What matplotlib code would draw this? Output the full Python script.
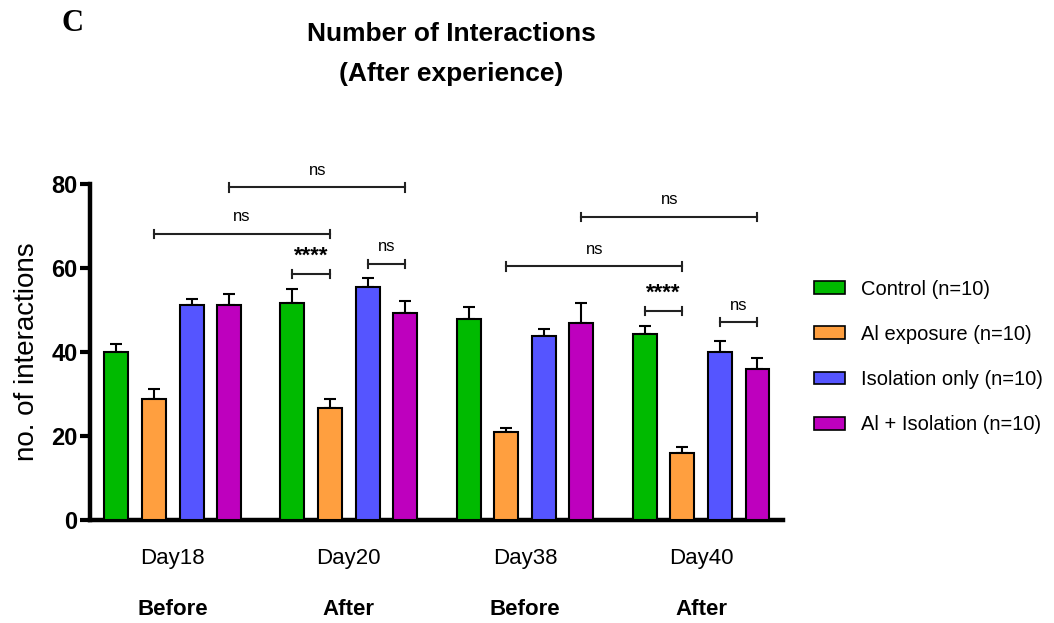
import matplotlib
matplotlib.use("Agg")
import matplotlib.pyplot as plt
from matplotlib.patches import Patch
from matplotlib.transforms import blended_transform_factory
import numpy as np

plt.rcParams['font.family'] = ['Liberation Sans', 'DejaVu Sans']

days = ["Day18", "Day20", "Day38", "Day40"]
phases = ["Before", "After", "Before", "After"]
groups = ["Control (n=10)", "Al exposure (n=10)", "Isolation only (n=10)", "Al + Isolation (n=10)"]
colors = ["#00BA00", "#FF9F3F", "#5555FF", "#BE00BE"]

control = [40.0, 51.6, 47.9, 44.4]
al_exposure = [28.7, 26.7, 21.0, 15.9]
isolation = [51.3, 55.4, 43.8, 40.0]
al_isolation = [51.1, 49.4, 46.9, 36.0]

control_err = [2.0, 3.4, 2.7, 1.7]
al_exposure_err = [2.4, 2.0, 0.8, 1.4]
isolation_err = [1.3, 2.1, 1.6, 2.6]
al_isolation_err = [2.8, 2.8, 4.8, 2.6]

means = [control, al_exposure, isolation, al_isolation]
errs = [control_err, al_exposure_err, isolation_err, al_isolation_err]

# comparisons: (day index a, group a, day index b, group b, bar height, label)
comparisons = [
    (0, 3, 1, 3, 79.2, "ns"),
    (0, 1, 1, 1, 68.1, "ns"),
    (1, 0, 1, 1, 58.6, "****"),
    (1, 2, 1, 3, 61.0, "ns"),
    (2, 3, 3, 3, 72.2, "ns"),
    (2, 1, 3, 1, 60.4, "ns"),
    (3, 0, 3, 1, 49.8, "****"),
    (3, 2, 3, 3, 47.1, "ns"),
]

fig = plt.figure(figsize=(10.54, 6.23), dpi=100)
ax = fig.add_axes([0.0854, 0.1653, 0.6576, 0.5394])

x = np.arange(len(days))
step = 0.2136
width = 0.136
offsets = (np.arange(4) - 1.5) * step

for gi in range(4):
    ax.bar(x + offsets[gi], means[gi], width=width, color=colors[gi],
           edgecolor="black", linewidth=1.5, zorder=3)
    ax.errorbar(x + offsets[gi], means[gi], yerr=[np.zeros(4), errs[gi]],
                fmt="none", ecolor="black", elinewidth=1.5, capsize=4.5,
                capthick=1.5, zorder=2)

def bar_x(d, g):
    return x[d] + offsets[g]

for d1, g1, d2, g2, h, lab in comparisons:
    x1, x2 = bar_x(d1, g1), bar_x(d2, g2)
    ax.plot([x1, x2], [h, h], color="#222222", lw=1.5, clip_on=False, zorder=4)
    for xe in (x1, x2):
        ax.plot([xe, xe], [h - 1.0, h + 1.0], color="#222222", lw=1.5,
                clip_on=False, zorder=4)
    if lab == "****":
        ax.text((x1 + x2) / 2, h + 1.6, lab, ha="center", va="bottom",
                fontsize=16, fontweight="bold", clip_on=False)
    else:
        ax.text((x1 + x2) / 2, h + 2.3, lab, ha="center", va="bottom",
                fontsize=12, clip_on=False)

ax.set_xlim(-0.47, 3.466)
ax.set_ylim(0, 80)
ax.set_yticks([0, 20, 40, 60, 80])
ax.set_yticklabels(["0", "20", "40", "60", "80"], fontsize=17, fontweight="bold")
ax.set_xticks(x)
ax.set_xticklabels(days, fontsize=16)
ax.tick_params(axis="x", length=0, pad=20)
ax.tick_params(axis="y", length=7, width=3, pad=2)

trans = blended_transform_factory(ax.transData, ax.transAxes)
for xi, ph in zip(x, phases):
    ax.text(xi, -0.265, ph, transform=trans, ha="center", va="center",
            fontsize=16, fontweight="bold")

for side in ("top", "right"):
    ax.spines[side].set_visible(False)
for side in ("left", "bottom"):
    ax.spines[side].set_linewidth(3.2)

ax.set_ylabel("no. of interactions", fontsize=20, labelpad=8)

handles = [Patch(facecolor=c, edgecolor="black", linewidth=1.2) for c in colors]
fig.legend(handles, groups, loc="upper left", bbox_to_anchor=(0.755, 0.580),
           frameon=False, fontsize=14.5, handlelength=1.55, handleheight=0.6,
           labelspacing=1.3, handletextpad=0.8)

fig.text(0.428, 0.945, "Number of Interactions", ha="center", va="center",
         fontsize=19, fontweight="bold")
fig.text(0.428, 0.881, "(After experience)", ha="center", va="center",
         fontsize=19, fontweight="bold")
fig.text(0.069, 0.962, "C", ha="center", va="center", fontsize=22,
         fontweight="bold", family=["Liberation Serif", "DejaVu Serif"])

fig.savefig("out.png", dpi=100)
